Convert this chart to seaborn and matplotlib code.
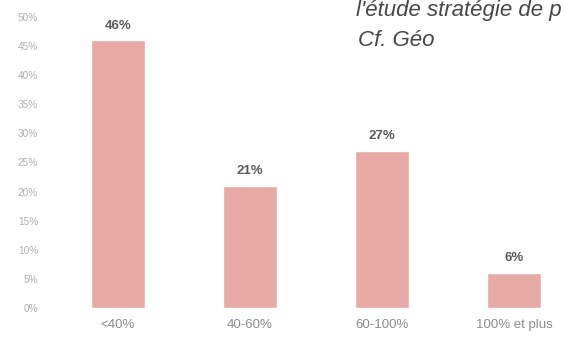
import matplotlib
matplotlib.use("Agg")
import matplotlib.pyplot as plt
import seaborn as sns
import pandas as pd

categories = ["<40%", "40-60%", "60-100%", "100% et plus"]
shares = [46, 21, 27, 6]
value_labels = ["46%", "21%", "27%", "6%"]
y_ticks = [0, 5, 10, 15, 20, 25, 30, 35, 40, 45, 50]
y_tick_labels = ["0%", "5%", "10%", "15%", "20%", "25%", "30%", "35%", "40%", "45%", "50%"]

df = pd.DataFrame({"tranche": categories, "part": shares})

sns.set_theme(style="white")
plt.rcParams["font.family"] = ["Liberation Sans", "DejaVu Sans"]

W, H = 564, 337
fig = plt.figure(figsize=(W / 100, H / 100), dpi=100)
# axes spans from x=52px to the right edge, y from 308px (0%) upward
ax = fig.add_axes([52 / W, (H - 308) / H, (W - 52) / W, (308 - 5) / H])

sns.barplot(data=df, x="tranche", y="part", color="#E8AAA5", width=0.41,
            saturation=1, ax=ax)

x_right = (W - 118) / 132
ax.set_xlim(-0.5, x_right)
ax.set_ylim(0, 303 / 5.82)

for i, (v, lab) in enumerate(zip(shares, value_labels)):
    ax.text(i, v + 1.5, lab, ha="center", va="bottom", fontsize=9.5,
            fontweight="bold", color="#5A5A5A")

ax.set_yticks(y_ticks)
ax.set_yticklabels(y_tick_labels, fontsize=7.2, color="#B0B0B0")
ax.tick_params(axis="y", length=0, pad=10)
ax.tick_params(axis="x", length=0, pad=8, labelsize=9.5, labelcolor="#8C8C8C")
ax.set_xlabel("")
ax.set_ylabel("")
for s in ax.spines.values():
    s.set_visible(False)

fig.text(356 / W, 1 - 16 / H, "l'étude stratégie de p", fontsize=16,
         style="italic", color="#474747", ha="left", va="baseline")
fig.text(358 / W, 1 - 46 / H, "Cf. Géo", fontsize=16,
         style="italic", color="#474747", ha="left", va="baseline")

fig.savefig("out.png", dpi=100)
